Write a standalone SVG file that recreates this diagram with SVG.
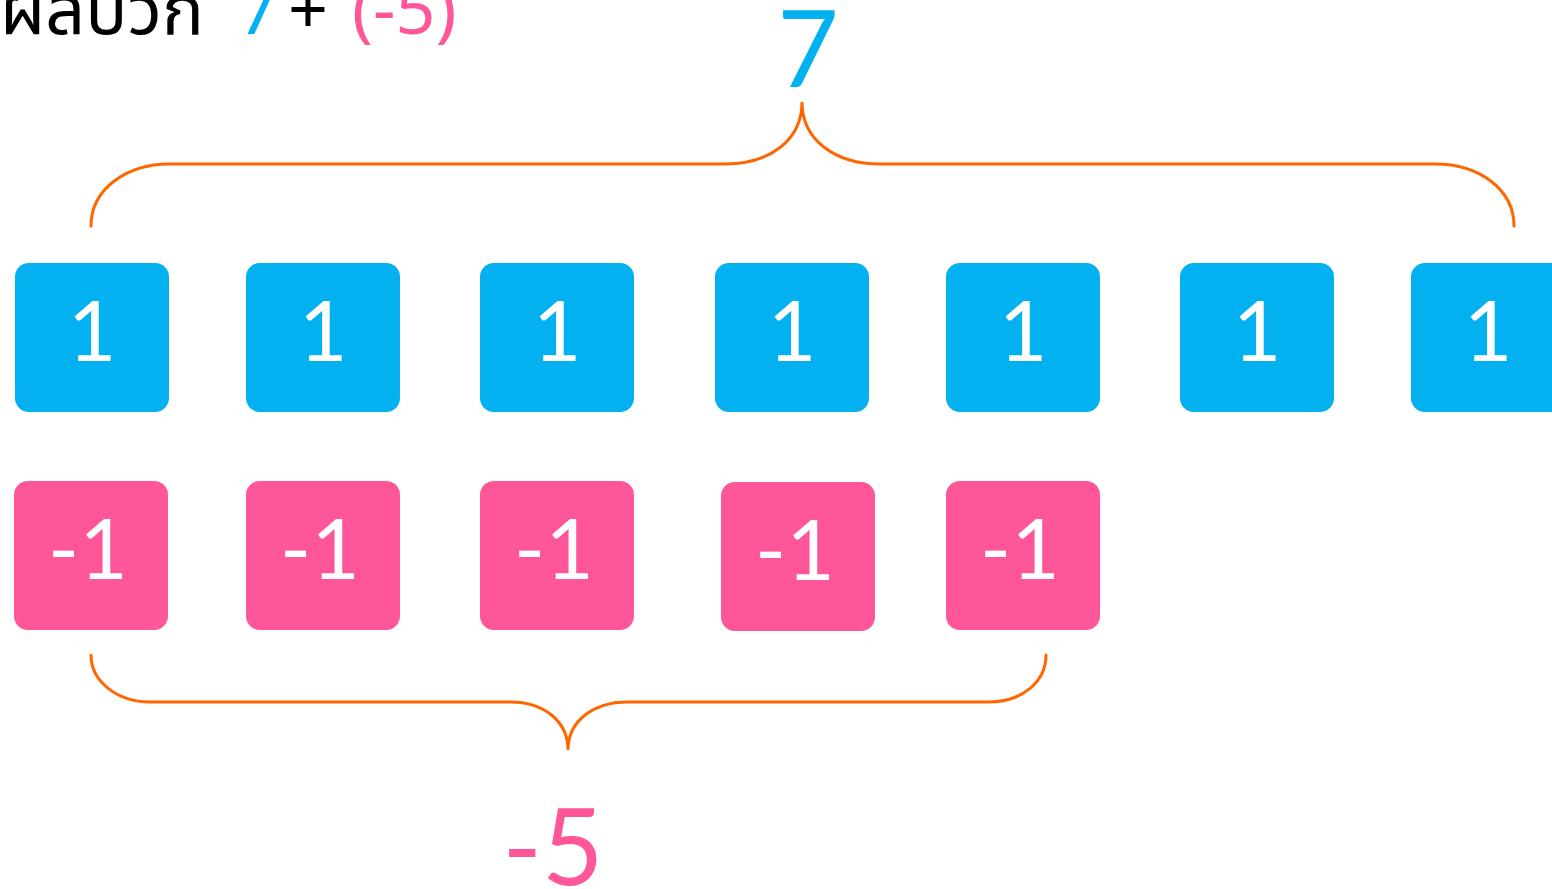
<svg xmlns="http://www.w3.org/2000/svg" width="1552" height="889" viewBox="0 0 1552 889">
<style>
.pos{fill:#03B1F0}
.neg{fill:#FF5599}
.lbl{font-family:Lato,"Noto Sans",sans-serif;fill:#fff;font-size:84px;text-anchor:middle}
.brace{fill:none;stroke:#FF6600;stroke-width:3;stroke-linecap:round}
.big{font-family:Lato,"Noto Sans",sans-serif;font-size:106px;text-anchor:middle}
.title{font-family:"Noto Sans","Noto Sans Thai",Lato,sans-serif;font-size:70px}
</style>
<rect width="1552" height="889" fill="#fff"/>
<text class="title" x="0" y="34"><tspan fill="#000">ผลบวก</tspan><tspan x="238" fill="#03B1F0">7</tspan><tspan x="288" fill="#000">+</tspan><tspan x="352" fill="#FF5599">(-5)</tspan></text>
<g id="connectors">
<path class="brace" d="M91,226 C91,190 125,164 170,164 L725,164 C770,164 802,140 802,102 C802,140 835,164 880,164 L1435,164 C1480,164 1514,190 1514,226"/>
<path class="brace" d="M91,655 C91,682 118,702 150,702 L510,702 C545,702 568,722 568,750 C568,722 592,702 628,702 L988,702 C1022,702 1046,682 1046,655"/>
</g>
<g id="label-7"><text class="big" x="808" y="87" fill="#03B1F0">7</text></g>
<g id="label-neg5"><text class="big" x="553" y="885" fill="#FF5599">-5</text></g>
<g id="p1"><rect class="pos" x="15" y="263" width="154" height="149" rx="14"/><text class="lbl" x="92" y="361">1</text></g>
<g id="p2"><rect class="pos" x="246" y="263" width="154" height="149" rx="14"/><text class="lbl" x="323" y="361">1</text></g>
<g id="p3"><rect class="pos" x="480" y="263" width="154" height="149" rx="14"/><text class="lbl" x="557" y="361">1</text></g>
<g id="p4"><rect class="pos" x="715" y="263" width="154" height="149" rx="14"/><text class="lbl" x="792" y="361">1</text></g>
<g id="p5"><rect class="pos" x="946" y="263" width="154" height="149" rx="14"/><text class="lbl" x="1023" y="361">1</text></g>
<g id="p6"><rect class="pos" x="1180" y="263" width="154" height="149" rx="14"/><text class="lbl" x="1257" y="361">1</text></g>
<g id="p7"><rect class="pos" x="1411" y="263" width="170" height="149" rx="14"/><text class="lbl" x="1488" y="361">1</text></g>
<g id="n1"><rect class="neg" x="14" y="481" width="154" height="149" rx="14"/><text class="lbl" x="88" y="579">-1</text></g>
<g id="n2"><rect class="neg" x="246" y="481" width="154" height="149" rx="14"/><text class="lbl" x="320" y="579">-1</text></g>
<g id="n3"><rect class="neg" x="480" y="481" width="154" height="149" rx="14"/><text class="lbl" x="554" y="579">-1</text></g>
<g id="n4"><rect class="neg" x="721" y="482" width="154" height="149" rx="14"/><text class="lbl" x="795" y="580">-1</text></g>
<g id="n5"><rect class="neg" x="946" y="481" width="154" height="149" rx="14"/><text class="lbl" x="1020" y="579">-1</text></g>
</svg>
